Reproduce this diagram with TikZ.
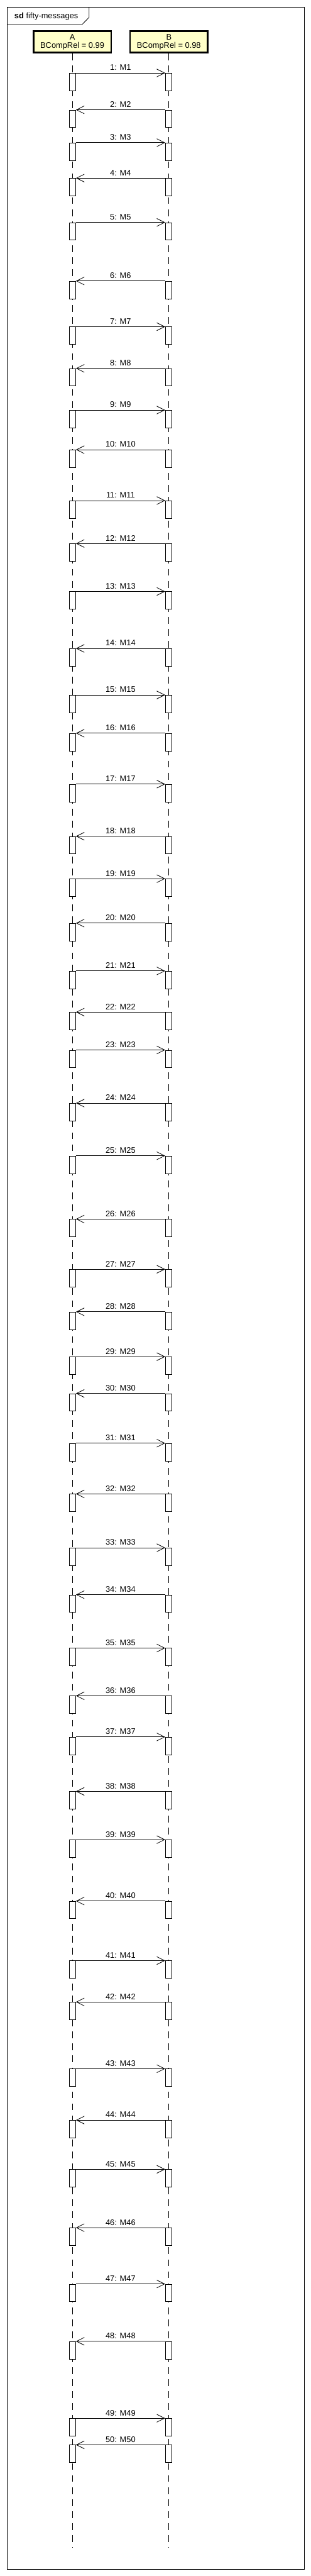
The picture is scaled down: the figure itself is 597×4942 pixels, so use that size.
\documentclass[tikz,border=0pt]{standalone}
\usepackage{fontspec}
\setmainfont{Liberation Sans}
\usetikzlibrary{arrows.meta}
\definecolor{headfill}{RGB}{255,255,200}
\begin{document}
\begin{tikzpicture}[x=1pt,y=-1pt,
  font=\fontsize{15.5}{15}\selectfont,
  head/.style={draw=black, line width=3pt, fill=headfill, minimum width=149pt, minimum height=41pt, inner sep=0pt, align=center},
  lifeline/.style={draw=black, line width=1pt, dash pattern=on 13pt off 10pt},
  actbox/.style={draw=black, fill=white, line width=1pt, minimum width=12.6pt, minimum height=33.5pt, inner sep=0pt, anchor=north},
  msg/.style={draw=black, line width=1pt, -{Straight Barb[length=15pt,width=15pt,line width=1pt]}},
  lbl/.style={midway, anchor=base, yshift=5pt, inner sep=0pt, text=black},
  framebox/.style={draw=black, line width=1pt}]
\useasboundingbox (0,0) rectangle (597,4942);
\fill[white] (0,0) rectangle (597,4942);
% frame
\draw[framebox] (13.3,13.3) rectangle (584,4929);
\draw[framebox] (13.3,46.7) -- (158,46.7) -- (171,33.3) -- (171,13.3);
\node[anchor=base west, inner sep=0pt] (title) at (27.5,36) {\textbf{sd} fifty-messages};
% lifeline heads
\node[head] (A) at (138.8,80.5) {A\\BCompRel = 0.99};
\node[head] (B) at (324.3,80.5) {B\\BCompRel = 0.98};
\coordinate (Aend) at (138.8,4888);
\coordinate (Bend) at (324.3,4888);
\draw[lifeline] (A.south) -- (Aend);
\draw[lifeline] (B.south) -- (Bend);
% messages
\foreach \i/\y in {1/140, 2/210.7, 3/273.7, 4/341.7, 5/426.7, 6/539, 7/626.7, 8/706.7, 9/786.7, 10/862.7,
  11/960.3, 12/1042.7, 13/1134.7, 14/1244, 15/1333.3, 16/1406.7, 17/1504.3, 18/1604.3, 19/1685.7, 20/1771,
  21/1862.7, 22/1941.7, 23/2014.3, 24/2116.3, 25/2217.3, 26/2338.7, 27/2435, 28/2516.7, 29/2602.7, 30/2673.3,
  31/2768.7, 32/2866, 33/2969.3, 34/3059.3, 35/3161.7, 36/3253.3, 37/3332.3, 38/3436.7, 39/3529.3, 40/3647,
  41/3761.3, 42/3840.7, 43/3968.7, 44/4067.3, 45/4161.7, 46/4273.7, 47/4381.7, 48/4491.7, 49/4639.3, 50/4690.3}{
  \node[actbox] (actA\i) at (139,\y) {};
  \node[actbox] (actB\i) at (324,\y) {};
  \ifodd\i
    \draw[msg] (actA\i.north east) -- (actB\i.north west) node[lbl] {\i: M\i};
  \else
    \draw[msg] (actB\i.north west) -- (actA\i.north east) node[lbl] {\i: M\i};
  \fi
}
\end{tikzpicture}
\end{document}
